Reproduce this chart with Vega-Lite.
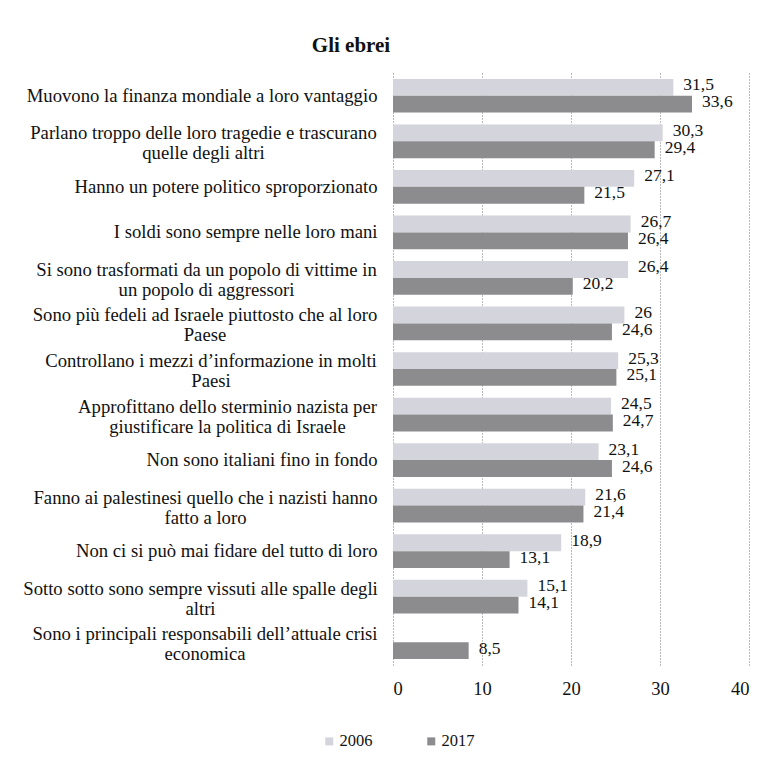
{
  "$schema": "https://vega.github.io/schema/vega-lite/v6.json",
  "autosize": "none",
  "width": 356,
  "height": 592,
  "padding": {"left": 393, "top": 73, "right": 31, "bottom": 99},
  "background": "white",
  "config": {
    "view": {"stroke": null},
    "font": "Liberation Serif",
    "locale": {"number": {"decimal": ",", "thousands": ".", "grouping": [3], "currency": ["", " €"]}}
  },
  "title": {
    "text": "Gli ebrei",
    "font": "Liberation Serif",
    "fontSize": 21,
    "fontWeight": "bold",
    "color": "#111",
    "anchor": "middle",
    "dx": -220,
    "offset": 17
  },
  "data": {
    "values": [
      {"item": "Muovono la finanza mondiale a loro vantaggio", "year": "2006", "value": 31.5},
      {"item": "Muovono la finanza mondiale a loro vantaggio", "year": "2017", "value": 33.6},
      {"item": "Parlano troppo delle loro tragedie e trascurano|quelle degli altri", "year": "2006", "value": 30.3},
      {"item": "Parlano troppo delle loro tragedie e trascurano|quelle degli altri", "year": "2017", "value": 29.4},
      {"item": "Hanno un potere politico sproporzionato", "year": "2006", "value": 27.1},
      {"item": "Hanno un potere politico sproporzionato", "year": "2017", "value": 21.5},
      {"item": "I soldi sono sempre nelle loro mani", "year": "2006", "value": 26.7},
      {"item": "I soldi sono sempre nelle loro mani", "year": "2017", "value": 26.4},
      {"item": "Si sono trasformati da un popolo di vittime in|un popolo di aggressori", "year": "2006", "value": 26.4},
      {"item": "Si sono trasformati da un popolo di vittime in|un popolo di aggressori", "year": "2017", "value": 20.2},
      {"item": "Sono più fedeli ad Israele piuttosto che al loro|Paese", "year": "2006", "value": 26},
      {"item": "Sono più fedeli ad Israele piuttosto che al loro|Paese", "year": "2017", "value": 24.6},
      {"item": "Controllano i mezzi d’informazione in molti|Paesi", "year": "2006", "value": 25.3},
      {"item": "Controllano i mezzi d’informazione in molti|Paesi", "year": "2017", "value": 25.1},
      {"item": "Approfittano dello sterminio nazista per|giustificare la politica di Israele", "year": "2006", "value": 24.5},
      {"item": "Approfittano dello sterminio nazista per|giustificare la politica di Israele", "year": "2017", "value": 24.7},
      {"item": "Non sono italiani fino in fondo", "year": "2006", "value": 23.1},
      {"item": "Non sono italiani fino in fondo", "year": "2017", "value": 24.6},
      {"item": "Fanno ai palestinesi quello che i nazisti hanno|fatto a loro", "year": "2006", "value": 21.6},
      {"item": "Fanno ai palestinesi quello che i nazisti hanno|fatto a loro", "year": "2017", "value": 21.4},
      {"item": "Non ci si può mai fidare del tutto di loro", "year": "2006", "value": 18.9},
      {"item": "Non ci si può mai fidare del tutto di loro", "year": "2017", "value": 13.1},
      {"item": "Sotto sotto sono sempre vissuti alle spalle degli|altri", "year": "2006", "value": 15.1},
      {"item": "Sotto sotto sono sempre vissuti alle spalle degli|altri", "year": "2017", "value": 14.1},
      {"item": "Sono i principali responsabili dell’attuale crisi|economica", "year": "2017", "value": 8.5}
    ]
  },
  "encoding": {
    "y": {
      "field": "item",
      "type": "nominal",
      "sort": null,
      "scale": {"paddingInner": 0.26, "paddingOuter": 0.13},
      "axis": {
        "title": null,
        "domain": false,
        "ticks": false,
        "labelExpr": "split(datum.label, '|')",
        "labelFont": "Liberation Serif",
        "labelFontSize": 18.7,
        "labelColor": "#111",
        "labelLimit": 0,
        "labelLineHeight": 20,
        "labelAlign": {"condition": {"test": "indexof(datum.value, '|') >= 0", "value": "center"}, "value": "right"},
        "labelOffset": {"condition": {"test": "indexof(datum.value, '|') >= 0", "value": -8}, "value": 0},
        "labelPadding": {
          "condition": [
            {"test": "indexof(datum.value, 'Parlano') == 0", "value": 190},
            {"test": "indexof(datum.value, 'Si sono') == 0", "value": 187},
            {"test": "indexof(datum.value, 'Sono più') == 0", "value": 188.5},
            {"test": "indexof(datum.value, 'Controllano') == 0", "value": 182.5},
            {"test": "indexof(datum.value, 'Approfittano') == 0", "value": 166},
            {"test": "indexof(datum.value, 'Fanno') == 0", "value": 188},
            {"test": "indexof(datum.value, 'Sotto') == 0", "value": 193},
            {"test": "indexof(datum.value, 'Sono i') == 0", "value": 188.5}
          ],
          "value": 16
        }
      }
    },
    "yOffset": {"field": "year", "type": "nominal", "sort": ["2006", "2017"], "scale": {"domain": ["2006", "2017"], "paddingInner": 0}},
    "x": {
      "field": "value",
      "type": "quantitative",
      "scale": {"domain": [0, 40], "nice": false},
      "axis": {
        "title": null,
        "values": [0, 10, 20, 30, 40],
        "domain": false,
        "ticks": false,
        "grid": true,
        "gridColor": "#777",
        "gridDash": [1, 2],
        "gridWidth": 1,
        "labelFont": "Liberation Serif",
        "labelFontSize": 18.5,
        "labelColor": "#111",
        "labelPadding": 14
      }
    }
  },
  "layer": [
    {
      "mark": {"type": "bar"},
      "encoding": {
        "color": {
          "field": "year",
          "type": "nominal",
          "scale": {"domain": ["2006", "2017"], "range": ["#d4d4dc", "#8c8c8f"]},
          "legend": {
            "title": null,
            "orient": "none",
            "direction": "horizontal",
            "legendX": -72,
            "legendY": 660,
            "symbolType": "square",
            "symbolSize": 64,
            "symbolStrokeWidth": 0,
            "labelFont": "Liberation Serif",
            "labelFontSize": 16.5,
            "labelColor": "#111",
            "labelOffset": 2,
            "columnPadding": 50
          }
        }
      }
    },
    {
      "mark": {"type": "text", "align": "left", "baseline": "middle", "dx": 10, "dy": -2, "font": "Liberation Serif", "fontSize": 17.5, "color": "#111"},
      "encoding": {
        "text": {"field": "value", "type": "quantitative", "format": "~g"}
      }
    }
  ]
}
